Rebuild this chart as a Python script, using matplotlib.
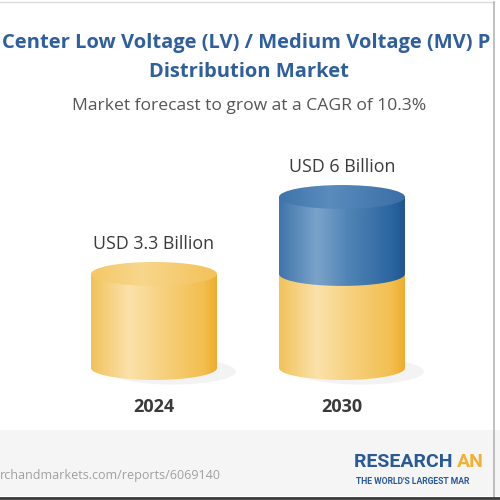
import numpy as np
import matplotlib.pyplot as plt
from matplotlib.colors import LinearSegmentedColormap
from matplotlib.patches import Ellipse, PathPatch, Rectangle
from matplotlib.path import Path

# chart data
years = ['2024', '2030']
base_values = [3.3, 3.3]      # yellow part
growth_values = [0.0, 2.7]    # blue part stacked on top
value_labels = ['USD 3.3 Billion', 'USD 6 Billion']

title_lines = ['Center Low Voltage (LV) / Medium Voltage (MV) P',
               'Distribution Market']
subtitle = 'Market forecast to grow at a CAGR of 10.3%'
source = 'rchandmarkets.com/reports/6069140'
logo_top = ['RESEARCH ', 'AN']
logo_bottom = "THE WORLD'S LARGEST MAR"

FONT = 'Open Sans'
TITLE_COL = '#2f5f9c'

yellow_body = LinearSegmentedColormap.from_list('yb', [
    (0, '#f1c25a'), (0.3, '#fbe2ab'), (0.55, '#f7d282'),
    (0.9, '#f2be4e'), (1, '#eeac2c')])
yellow_top = LinearSegmentedColormap.from_list('yt', [
    (0, '#f4c865'), (0.4, '#f8d68c'), (1, '#f3c258')])
blue_body = LinearSegmentedColormap.from_list('bb', [
    (0, '#3f74aa'), (0.3, '#7ba3ca'), (0.55, '#5084b6'),
    (0.9, '#2b65a0'), (1, '#1d5590')])
blue_top = LinearSegmentedColormap.from_list('bt', [
    (0, '#3f74aa'), (0.4, '#5a8cbd'), (1, '#3a6fa6')])

fig = plt.figure(figsize=(5, 5), dpi=100)
fig.patch.set_facecolor('white')

# chart axes: x = category index, y = value (USD billion)
ax = fig.add_axes([0, 0, 1, 1], zorder=1)
ax.axis('off')
ax.patch.set_alpha(0)

# overlay axes in pixel units for frame / texts
ov = fig.add_axes([0, 0, 1, 1], zorder=0)
ov.set_xlim(0, 500)
ov.set_ylim(500, 0)
ov.axis('off')

ov.add_patch(Rectangle((0, 430), 500, 66, color='#f5f5f5', lw=0))
ov.plot([0, 494], [2, 2], color='#dcdcdc', lw=1)
ov.plot([494, 494], [2, 497], color='#b5b5b5', lw=1.2)
ov.plot([0, 500], [497.5, 497.5], color='#3a3a3a', lw=2)

txt = fig.add_axes([0, 0, 1, 1], zorder=2)
txt.set_xlim(0, 500)
txt.set_ylim(500, 0)
txt.axis('off')
txt.patch.set_alpha(0)

txt.text(246, 43, title_lines[0], ha='center', va='center', fontsize=14.5,
         fontweight='bold', color=TITLE_COL, family=FONT)
txt.text(249, 72, title_lines[1], ha='center', va='center', fontsize=14.5,
         fontweight='bold', color=TITLE_COL, family=FONT)
txt.text(249, 106, subtitle, ha='center', va='center', fontsize=12.6,
         color='#555555', family=FONT)
txt.text(0, 475, source, ha='left', va='center', fontsize=9,
         color='#a0a0a0', family=FONT)
t1 = txt.text(354, 462, logo_top[0], ha='left', va='center', fontsize=14,
              fontweight='bold', color='#2a5a96', family='Roboto')
txt.annotate(logo_top[1], xycoords=t1, xy=(1, 0.5), va='center', ha='left',
             fontsize=14, fontweight='bold', color='#f2b134', family='Roboto')
txt.text(356, 482, logo_bottom, ha='left', va='center', fontsize=6.2,
         fontweight='bold', color='#2a5a96', family='Roboto')

W = 0.67
EH = 0.84


def body(xc, y0, y1, cmap):
    t = np.linspace(np.pi, 2 * np.pi, 80)
    xs = np.concatenate([[xc - W / 2], xc + W / 2 * np.cos(t), [xc + W / 2, xc - W / 2]])
    ys = np.concatenate([[y1], y0 + EH / 2 * np.sin(t), [y1, y1]])
    patch = PathPatch(Path(np.column_stack([xs, ys])), fc='none', ec='none')
    ax.add_patch(patch)
    im = ax.imshow(np.linspace(0, 1, 256).reshape(1, -1), cmap=cmap,
                   extent=[xc - W / 2, xc + W / 2, y0 - EH / 2, y1],
                   aspect='auto', interpolation='bicubic', zorder=2)
    im.set_clip_path(patch)


def top(xc, y1, cmap):
    e = Ellipse((xc, y1), W, EH, fc='none', ec='none')
    ax.add_patch(e)
    im = ax.imshow(np.linspace(0, 1, 256).reshape(1, -1), cmap=cmap,
                   extent=[xc - W / 2, xc + W / 2, y1 - EH / 2, y1 + EH / 2],
                   aspect='auto', interpolation='bicubic', zorder=3)
    im.set_clip_path(e)


for i, (b, g) in enumerate(zip(base_values, growth_values)):
    # soft floor shadow
    ax.add_patch(Ellipse((i + 0.1, -0.12), W * 1.0, EH * 1.1,
                         fc='#f3f3f3', ec='none', zorder=0))
    body(i, 0, b, yellow_body)
    if g > 0:
        body(i, b, b + g, blue_body)
        top(i, b + g, blue_top)
    else:
        top(i, b, yellow_top)
    total = b + g
    ax.text(i, total + 1.05, value_labels[i], ha='center', va='center',
            fontsize=12.8, color='#3a3a3a', family=FONT)
    ax.text(i, -1.38, years[i], ha='center', va='center', fontsize=13,
            color='#3a3a3a', family=FONT, fontweight='bold')

# pixel mapping: categories at x=154/342 px, value 0 at y=368 px, 28.5 px per unit
ax.set_xlim(-154 / 188, 346 / 188)
ax.set_ylim(-(500 - 368) / 28.5, 368 / 28.5)

fig.savefig('out.png', dpi=100, facecolor='white')
